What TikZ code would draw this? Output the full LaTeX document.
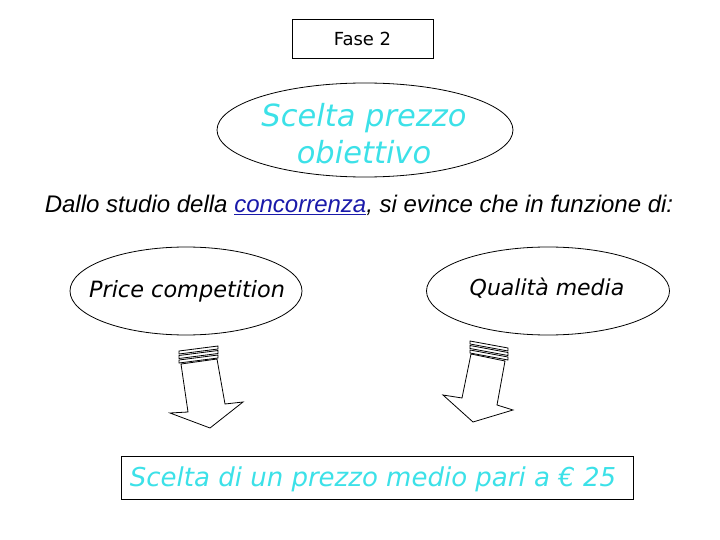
\documentclass[tikz,border=0pt]{standalone}
\usepackage{fontspec}
\setmainfont{DejaVu Sans}
\newfontfamily\arialfont{Liberation Sans}
\usetikzlibrary{shapes.geometric}
\definecolor{cyantext}{RGB}{60,225,232}
\definecolor{linkblue}{RGB}{26,26,170}
\tikzset{
  outline/.style={draw=black, line width=0.8pt},
  ellipsebox/.style={outline, ellipse, inner sep=0pt},
  blockarrow/.style={draw=black, line width=0.8pt, line join=miter},
}
\begin{document}
\begin{tikzpicture}[x=1pt,y=-1pt]
\useasboundingbox (0,0) rectangle (720,540);
\fill[white] (0,0) rectangle (720,540);

% Fase 2 box
\node[outline, minimum width=141pt, minimum height=39pt, inner sep=0pt, font=\fontsize{18}{21}\selectfont] (fase) at (362.5,38.5) {Fase 2};

% top ellipse
\node[ellipsebox, minimum width=296pt, minimum height=94pt] (obj) at (365,130) {};
\node[text=cyantext, align=center, font=\fontsize{30.5}{37}\selectfont\itshape] (objtxt) at (364,134) {Scelta prezzo\\ obiettivo};

% sentence
\node[font=\arialfont\itshape\fontsize{24}{28}\selectfont] (sent) at (359,205) {Dallo studio della \textcolor{linkblue}{\underline{concorrenza}}, si evince che in funzione di:};

% left ellipse
\node[ellipsebox, minimum width=232pt, minimum height=88pt] (price) at (186,291) {};
\node[font=\fontsize{22.4}{26}\selectfont\itshape] (pricetxt) at (187,291) {Price competition};

% right ellipse
\node[ellipsebox, minimum width=243pt, minimum height=88pt] (qual) at (548,291) {};
\node[font=\fontsize{22}{26}\selectfont\itshape] (qualtxt) at (547,288) {Qualità media};

% bottom box
\node[outline, minimum width=512pt, minimum height=43pt, inner sep=0pt] (result) at (377,478) {};
\node[text=cyantext, font=\fontsize{26}{30}\selectfont\itshape] (resulttxt) at (373,479) {Scelta di un prezzo medio pari a € 25};

% left block arrow
\draw[blockarrow] (179,351) -- (218,346) -- (218,349) -- (179,354) -- cycle;
\draw[blockarrow] (179,355.5) -- (218,350.5) -- (218,353.5) -- (179,358.5) -- cycle;
\draw[blockarrow] (179,360) -- (218,355) -- (218,358) -- (179,363) -- cycle;
\draw[blockarrow] (181,364) -- (217,359) -- (225,404) -- (243,402) -- (210,428) -- (170,413) -- (188,412) -- cycle;

% right block arrow
\draw[blockarrow] (470,341) -- (508,348) -- (508,351) -- (470,344) -- cycle;
\draw[blockarrow] (470,345.5) -- (508,352.5) -- (508,355.5) -- (470,348.5) -- cycle;
\draw[blockarrow] (470,350) -- (508,357) -- (508,360) -- (470,353) -- cycle;
\draw[blockarrow] (471,354) -- (505,361) -- (497,405) -- (513,410) -- (473,422) -- (443,395) -- (462,398) -- cycle;
\end{tikzpicture}
\end{document}
